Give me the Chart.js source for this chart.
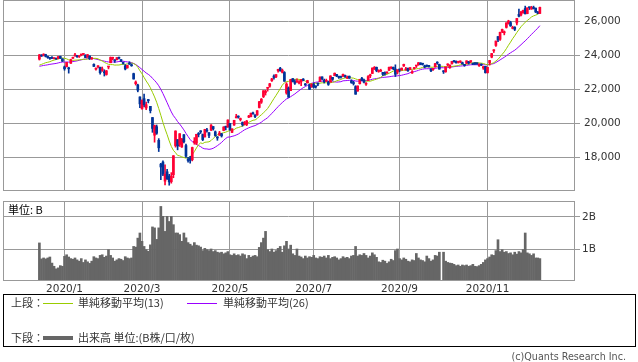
<!DOCTYPE html>
<html>
<head>
<meta charset="utf-8">
<script src="https://cdn.jsdelivr.net/npm/chart.js@4.4.1/dist/chart.umd.min.js"></script>
<style>
body { margin: 0; background: #fff; width: 638px; height: 362px; position: relative; overflow: hidden;
       font-family: "Noto Sans CJK JP", sans-serif; color: #333; }
#price { position: absolute; left: 0; top: 0; }
#vol { position: absolute; left: 0; top: 201px; }
.txt { position: absolute; font-size: 11px; line-height: 13px; white-space: nowrap; }
.ln { position: absolute; height: 1px; }
#legend { position: absolute; left: 3px; top: 294px; width: 633px; height: 53px; border: 1px solid #000; box-sizing: border-box; }
#copy { position: absolute; right: 12px; top: 350px; font: 9.6px "DejaVu Sans", sans-serif; color: #555; line-height: 13px; }
</style>
</head>
<body>
<canvas id="price" width="638" height="191"></canvas>
<canvas id="vol" width="638" height="96"></canvas>
<div class="txt" style="left:8px; top:203px; color:#000;">単位: B</div>
<div id="legend"></div>
<div class="txt" style="left:11px; top:296px;">上段：</div>
<div class="ln" style="left:43px; top:303px; width:30px; background:#99cc00;"></div>
<div class="txt" style="left:78px; top:296px;">単純移動平均(13)</div>
<div class="ln" style="left:187px; top:303px; width:30px; background:#9900ff;"></div>
<div class="txt" style="left:223px; top:296px;">単純移動平均(26)</div>
<div class="txt" style="left:11px; top:331px;">下段：</div>
<div class="ln" style="left:43px; top:336px; width:30px; height:4px; background:#666;"></div>
<div class="txt" style="left:78px; top:331px;">出来高 単位:(B株/口/枚)</div>
<div id="copy">(c)Quants Research Inc.</div>
<script>
// daily bars 2019/12/13 .. 2020/12/9 (index 0..239), 2020/10/1 no trading
const open = [
    23770, 24010, 24000, 24040, 23930, 23860, 23880, 23800, 23800, 23800, 23930, 23790,
    23320, 23330, 23220, 23530, 23820, 23960, 23990, 23920, 24020, 24050, 24010, 23880, 23960, 23780, 23470, 23180, 23320, 23290, 23110,
    23030, 22870, 23310, 23560, 23820, 23690, 23740, 23840, 23730, 23560, 23380, 23260, 23490, 23430, 22920, 22330, 22250, 21550,
    20850, 21450, 20900, 21400, 21000, 20340, 19300, 19800, 19000, 17600, 17720, 16600, 17150, 16900, 16570, 16980, 18690, 19040, 18760, 18610, 19330,
    18690, 17850, 17950, 17860, 18880, 18830, 19400, 19510, 19340, 19200, 19610, 19450, 19600, 19810, 19500, 19200, 19300, 19380, 19580, 19800, 19790,
    20000, 19470, 19900, 20320, 20420, 20220, 20050, 19970, 19930, 20360, 20390, 20600, 20500, 20490, 20930, 21240, 21570, 21810,
    22060, 22180, 22500, 22780, 22730, 23090, 23240, 23000, 22990, 21780, 22080, 21920, 22630, 22470, 22430, 22370, 22440, 22600, 22280, 22380, 22260, 22150,
    22280, 22180, 22310, 22460, 22730, 22530, 22470, 22430, 22420, 22700, 22800, 22870, 22750, 22730, 22760, 22800, 22660, 22770, 22490, 22370, 22160,
    21900, 22330, 22650, 22550, 22300, 22510, 22790, 22930, 23200, 23290, 23050, 23060, 22990, 22940, 22960, 23110, 23250, 23290, 23190, 23010,
    23170, 23140, 23370, 23130, 23240, 23170, 22960, 23220, 23370, 23440, 23550, 23520, 23360, 23400, 23400, 23180, 23150, 23320, 23580, 23460,
    null, 23090, 23030, 23430, 23280, 23510, 23660, 23640, 23590, 23600, 23560, 23430, 23520, 23610, 23630, 23520, 23520, 23540, 23380, 23430, 23250, 23350,
    22980, 23550, 23890, 24260, 24580, 25100, 24940, 25400, 25320, 25640, 25880, 25920, 25580, 25650, 25900, 26410, 26370, 26490, 26750,
    26450, 26820, 26720, 26790, 26770, 26540, 26460
];
const high = [
    24050, 24040, 24090, 24060, 23950, 23880, 23920, 23850, 23820, 23930, 23950, 23800,
    23370, 23580, 23300, 23770, 23900, 24120, 24000, 23960, 24060, 24100, 24030, 24050, 23960, 23870, 23490, 23260, 23400, 23300, 23310,
    23150, 23110, 23350, 23900, 23890, 23730, 23870, 23900, 23750, 23600, 23450, 23420, 23620, 23500, 22950, 22490, 22300, 21550,
    21380, 21720, 21250, 21400, 21000, 20340, 19900, 19900, 19100, 17640, 17800, 17560, 17300, 17000, 17100, 18100, 19560, 19040, 19390, 19110, 19340,
    18780, 18000, 18060, 18600, 19160, 19360, 19460, 19570, 19370, 19650, 19700, 19460, 19920, 19810, 19550, 19220, 19530, 19410, 19800, 19830, 20200,
    20000, 19680, 20180, 20530, 20440, 20310, 20080, 20110, 20170, 20470, 20600, 20660, 20500, 20750, 21290, 21460, 21920, 21940,
    22100, 22350, 22650, 22850, 22870, 23180, 23290, 23190, 23040, 22390, 22140, 22590, 22630, 22550, 22610, 22510, 22580, 22630, 22340, 22530, 22300, 22330,
    22360, 22200, 22370, 22730, 22730, 22600, 22600, 22480, 22800, 22700, 22960, 22880, 22770, 22760, 22890, 22840, 22780, 22780, 22560, 22470, 22210,
    22200, 22590, 22700, 22600, 22400, 22800, 22890, 23260, 23340, 23310, 23150, 23180, 23000, 23020, 23030, 23300, 23320, 23310, 23440, 23160,
    23180, 23250, 23480, 23290, 23240, 23280, 23100, 23290, 23410, 23580, 23560, 23530, 23420, 23430, 23410, 23200, 23220, 23520, 23620, 23480,
    null, 23100, 23320, 23500, 23440, 23650, 23700, 23680, 23650, 23680, 23600, 23460, 23680, 23640, 23680, 23540, 23530, 23560, 23500, 23500, 23360, 23350,
    23300, 23700, 24110, 24330, 24840, 25100, 25360, 25540, 25430, 25910, 26060, 26000, 25710, 25680, 26170, 26710, 26580, 26650, 26890,
    26790, 26830, 26880, 26890, 26780, 26580, 26830
];
const low = [
    23720, 23930, 23960, 23900, 23820, 23750, 23800, 23780, 23760, 23790, 23810, 23630,
    23120, 23310, 22950, 23520, 23820, 23950, 23880, 23870, 23970, 24040, 23860, 23880, 23750, 23760, 23340, 23120, 23250, 22890, 23050,
    22780, 22830, 23200, 23560, 23720, 23580, 23730, 23780, 23620, 23480, 23140, 23240, 23460, 23350, 22600, 22250, 21850, 20920,
    20830, 20960, 20800, 21200, 20610, 19470, 18890, 19350, 18340, 16690, 16920, 16380, 16700, 16360, 16480, 16800, 18600, 18440, 18640, 18580, 18850,
    18000, 17710, 17650, 17790, 18770, 18750, 19200, 19400, 18980, 19190, 19480, 19160, 19560, 19600, 19240, 19000, 19290, 19190, 19560, 19610, 19760,
    19590, 19450, 19880, 20320, 20300, 20140, 19830, 19900, 19860, 20330, 20380, 20530, 20330, 20470, 20900, 21170, 21510, 21660,
    21890, 22120, 22460, 22590, 22690, 23000, 23060, 22960, 22470, 21710, 21530, 21920, 22430, 22280, 22400, 22320, 22220, 22500, 22220, 22370, 21990, 22110,
    22080, 22070, 22220, 22450, 22560, 22370, 22460, 22230, 22420, 22520, 22790, 22740, 22640, 22660, 22750, 22700, 22630, 22640, 22350, 22250, 21710,
    21880, 22310, 22510, 22380, 22230, 22500, 22680, 22920, 23160, 23030, 23000, 23050, 22810, 22830, 22930, 23110, 23200, 23150, 22750, 22900,
    23030, 23120, 23340, 23120, 23050, 23160, 22930, 23180, 23280, 23410, 23440, 23420, 23260, 23320, 23300, 23040, 23110, 23300, 23470, 23180,
    null, 22930, 23000, 23370, 23230, 23480, 23590, 23530, 23540, 23550, 23470, 23350, 23510, 23480, 23560, 23450, 23450, 23460, 23350, 23390, 23170, 22950,
    22950, 23420, 23850, 24160, 24520, 24800, 24880, 25330, 25200, 25600, 25830, 25700, 25550, 25450, 25780, 26260, 26320, 26470, 26430,
    26440, 26690, 26700, 26720, 26510, 26440, 26450
];
const close = [
    24023, 23952, 24066, 23934, 23864, 23816, 23821, 23830, 23782, 23924, 23837, 23657,
    23204, 23575, 23204, 23739, 23850, 24025, 23916, 23933, 24041, 24083, 23864, 24031, 23795, 23827, 23343, 23215, 23379, 22977, 23205,
    22971, 23084, 23319, 23873, 23827, 23685, 23861, 23827, 23687, 23523, 23194, 23400, 23479, 23386, 22605, 22426, 21948, 21142,
    21344, 21083, 21100, 21329, 20749, 19698, 19867, 19416, 18559, 17431, 17002, 17011, 16726, 16552, 16887, 18092, 19546, 18664, 19389, 19084, 18917,
    18065, 17818, 17820, 18576, 18950, 19353, 19345, 19498, 19043, 19638, 19550, 19290, 19897, 19669, 19281, 19137, 19429, 19262, 19783, 19771, 20194,
    19619, 19674, 20179, 20390, 20366, 20267, 19915, 20037, 20134, 20433, 20595, 20552, 20388, 20741, 21272, 21419, 21916, 21878,
    22062, 22326, 22614, 22695, 22864, 23178, 23091, 23125, 22473, 22305, 21530, 22582, 22455, 22355, 22478, 22437, 22549, 22534, 22259, 22512, 21995, 22288,
    22122, 22145, 22306, 22714, 22614, 22438, 22529, 22290, 22784, 22587, 22945, 22770, 22696, 22717, 22884, 22751, 22715, 22657, 22397, 22339, 21710,
    22195, 22573, 22514, 22418, 22329, 22750, 22843, 23249, 23289, 23097, 23051, 23110, 22880, 22920, 22985, 23296, 23290, 23209, 22882, 23140,
    23138, 23247, 23465, 23205, 23089, 23274, 23032, 23235, 23406, 23559, 23454, 23475, 23319, 23360, 23346, 23087, 23204, 23511, 23539, 23185,
    null, 23029, 23312, 23433, 23422, 23647, 23619, 23558, 23601, 23626, 23507, 23410, 23671, 23567, 23639, 23474, 23516, 23494, 23485, 23418, 23331, 22977,
    23295, 23695, 24105, 24325, 24839, 24905, 25349, 25520, 25385, 25907, 26014, 25728, 25634, 25527, 26165, 26297, 26537, 26644, 26434,
    26787, 26800, 26809, 26751, 26547, 26467, 26817
];
// closes before the first bar (2019/11/8 .. 12/12), only used for the averages
const priorClose = [
    23391, 23331, 23520, 23319, 23141, 23303, 23416, 23292, 23148, 23038, 23112, 23292, 23373,
    23437, 23409, 23293, 23529, 23379, 23135, 23300, 23354, 23430, 23410, 23391, 23424
];
// volume, billion shares
const volume = [
    1.19, 0.69, 0.72, 0.69, 0.72, 0.75, 0.56, 0.46, 0.38, 0.41, 0.48, 0.46,
    0.77, 0.82, 0.75, 0.70, 0.68, 0.72, 0.66, 0.62, 0.70, 0.58, 0.66, 0.60, 0.55, 0.62, 0.76, 0.72, 0.70, 0.80, 0.82,
    0.74, 0.78, 0.98, 0.80, 0.72, 0.62, 0.66, 0.70, 0.68, 0.64, 0.76, 0.72, 0.70, 0.72, 1.08, 1.06, 1.34, 1.50,
    1.24, 1.08, 0.98, 0.93, 1.13, 1.69, 1.66, 1.30, 1.66, 2.33, 2.02, 1.55, 2.02, 1.86, 2.02, 1.76, 1.50, 1.50, 1.45, 1.24, 1.50,
    1.35, 1.20, 1.15, 1.10, 1.20, 1.12, 1.10, 1.06, 0.95, 1.02, 0.98, 0.95, 1.00, 0.92, 0.95, 0.90, 0.88, 0.90, 0.85, 0.88, 0.92,
    0.82, 0.80, 0.85, 0.80, 0.82, 0.78, 0.85, 0.82, 0.70, 0.80, 0.74, 0.78, 0.80, 0.76, 1.05, 1.20, 1.34, 1.55,
    0.98, 0.92, 1.00, 0.90, 0.95, 1.02, 1.08, 0.90, 1.10, 1.24, 1.00, 1.12, 0.85, 0.80, 1.00, 0.78, 0.75, 0.70, 0.78, 0.72, 0.76, 0.74,
    0.80, 0.72, 0.70, 0.76, 0.74, 0.78, 0.72, 0.80, 0.70, 0.74, 0.76, 0.72, 0.66, 0.70, 0.76, 0.72, 0.74, 0.70, 0.78, 0.80, 1.08,
    0.78, 0.82, 0.80, 0.86, 0.80, 0.72, 0.78, 0.88, 0.82, 0.74, 0.60, 0.58, 0.65, 0.62, 0.55, 0.60, 0.68, 0.64, 0.95, 1.00,
    0.70, 0.66, 0.72, 0.68, 0.62, 0.60, 0.66, 0.64, 0.86, 0.72, 0.66, 0.64, 0.60, 0.78, 0.70, 0.62, 0.66, 0.80, 0.78, 0.90,
    null, 0.90, 0.62, 0.58, 0.56, 0.55, 0.52, 0.48, 0.50, 0.46, 0.50, 0.48, 0.50, 0.46, 0.48, 0.52, 0.46, 0.45, 0.48, 0.52, 0.58, 0.66,
    0.70, 0.75, 0.82, 0.80, 0.95, 1.29, 0.92, 0.98, 0.90, 0.92, 0.86, 0.88, 0.82, 0.90, 0.84, 0.92, 0.88, 0.98, 1.50,
    0.88, 0.85, 0.80, 0.85, 0.72, 0.72, 0.70
];
const monthTicks = [12, 49, 91, 131, 172, 214];
const monthLabels = ['2020/1', '2020/3', '2020/5', '2020/7', '2020/9', '2020/11'];
const priceTicks = [18000, 20000, 22000, 24000, 26000];
const volTicks = [1, 2];

const UP = '#ff0033', DOWN = '#003399', GRID = '#999999';
const X_MIN = -17.38, X_MAX = 255.3;
const tickFont = { family: 'DejaVu Sans', size: 10.5 };

function sma(n) {
    const hist = priorClose.slice();
    return close.map((c, i) => {
        if (c == null) return { x: i, y: null };
        hist.push(c);
        const w = hist.slice(-n);
        return { x: i, y: w.reduce((a, b) => a + b, 0) / w.length };
    });
}
function candleColor(ctx) {
    const i = ctx.raw.x;
    return close[i] >= open[i] ? UP : DOWN;
}
// no label overhang padding, the plot box is set by the canvas
function noPad(s) {
    s.paddingTop = 0; s.paddingBottom = 0; s.paddingLeft = 0; s.paddingRight = 0;
}

const days = close.map((c, i) => i).filter(i => close[i] != null);

// draws the grey box round the plot area
const frame = {
    id: 'frame',
    afterDraw(chart) {
        const a = chart.chartArea, ctx = chart.ctx;
        const l = Math.round(a.left) + 0.5, r = Math.round(a.right) + 0.5;
        const t = Math.round(a.top) + 0.5, b = Math.round(a.bottom) - 0.5;
        ctx.save();
        ctx.strokeStyle = GRID;
        ctx.lineWidth = 1;
        ctx.strokeRect(l, t, r - l, b - t);
        ctx.restore();
    }
};

function xScale(showLabels) {
    return {
        type: 'linear', min: X_MIN, max: X_MAX, offset: false,
        grid: { color: GRID, drawTicks: false, offset: false },
        border: { display: false },
        afterBuildTicks: s => { s.ticks = monthTicks.map(v => ({ value: v })); },
        ticks: {
            display: showLabels, font: tickFont, color: '#333', padding: 2, maxRotation: 0, autoSkip: false,
            callback: v => monthLabels[monthTicks.indexOf(v)]
        },
        afterFit: s => { s.height = showLabels ? 16 : 0; noPad(s); }
    };
}
function yScale(min, max, ticks, pad, fmt) {
    return {
        position: 'right', min: min, max: max,
        grid: { color: GRID, tickLength: 6 },
        border: { display: false },
        afterBuildTicks: s => { s.ticks = ticks.map(v => ({ value: v })); },
        ticks: { font: tickFont, color: '#333', padding: pad, callback: fmt },
        afterFit: s => { s.width = 64; noPad(s); }
    };
}

new Chart(document.getElementById('price'), {
    type: 'bar',
    data: {
        datasets: [
            {
                type: 'bar', order: 1, grouped: false, barThickness: 2, minBarLength: 1,
                data: days.map(i => ({ x: i, y: [open[i], close[i]] })),
                backgroundColor: candleColor
            },
            {
                type: 'bar', order: 2, grouped: false, barThickness: 1,
                data: days.map(i => ({ x: i, y: [low[i], high[i]] })),
                backgroundColor: candleColor
            },
            {
                type: 'line', order: 3, data: sma(13), borderColor: '#99cc00', borderWidth: 1,
                pointRadius: 0, spanGaps: true, tension: 0
            },
            {
                type: 'line', order: 4, data: sma(26), borderColor: '#9900ff', borderWidth: 1,
                pointRadius: 0, spanGaps: true, tension: 0
            }
        ]
    },
    options: {
        responsive: false, animation: false, devicePixelRatio: 1,
        layout: { padding: { left: 3, top: 0, right: 0, bottom: 0 } },
        plugins: { legend: { display: false }, tooltip: { enabled: false } },
        scales: {
            x: xScale(false),
            y: yScale(16020, 27250, priceTicks, 4, v => v.toLocaleString('en-US'))
        }
    },
    plugins: [frame]
});

new Chart(document.getElementById('vol'), {
    type: 'bar',
    data: {
        datasets: [{
            data: days.map(i => ({ x: i, y: volume[i] })),
            backgroundColor: '#666666', barThickness: 2, grouped: false
        }]
    },
    options: {
        responsive: false, animation: false, devicePixelRatio: 1,
        layout: { padding: { left: 3, top: 0, right: 0, bottom: 0 } },
        plugins: { legend: { display: false }, tooltip: { enabled: false } },
        scales: {
            x: xScale(true),
            y: yScale(0, 2.5, volTicks, 2, v => v + 'B')
        }
    },
    plugins: [frame]
});
</script>
</body>
</html>
